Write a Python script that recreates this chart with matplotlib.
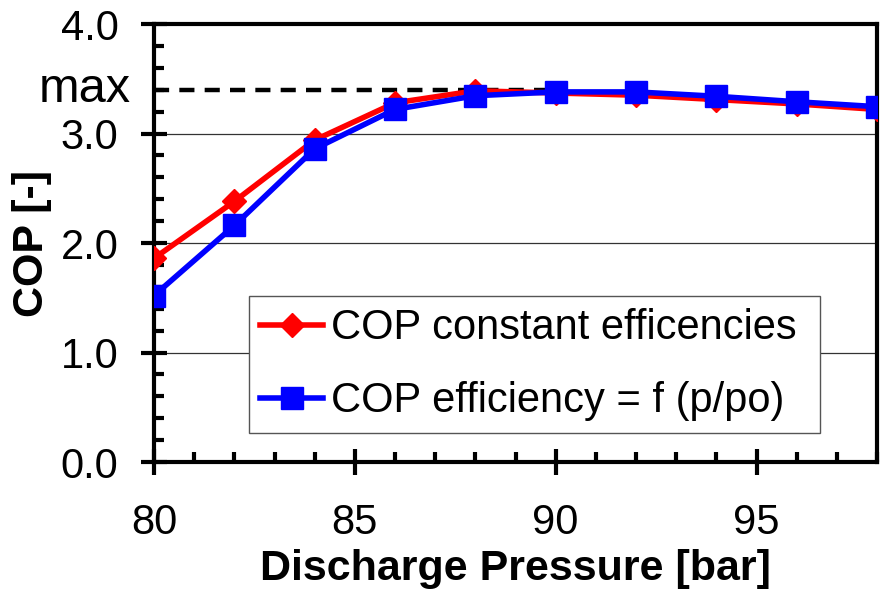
import matplotlib
matplotlib.use("Agg")
import matplotlib.pyplot as plt
from matplotlib.ticker import MultipleLocator, FixedLocator

# Discharge pressure [bar] and COP for the two compressor models
pressure = [80, 82, 84, 86, 88, 90, 92, 94, 96, 98]
cop_constant = [1.86, 2.38, 2.94, 3.28, 3.39, 3.37, 3.35, 3.31, 3.27, 3.22]
cop_ratio = [1.52, 2.16, 2.86, 3.22, 3.345, 3.38, 3.38, 3.34, 3.29, 3.245]

cop_max = 3.40
max_until = 90

y_ticks = [0.0, 1.0, 2.0, 3.0, 4.0]
x_ticks = [80, 85, 90, 95]

label_constant = "COP constant efficencies"
label_ratio = "COP efficiency = f (p/po)"

plt.rcParams["font.family"] = ["Liberation Sans", "DejaVu Sans"]

fig = plt.figure(figsize=(8.8, 5.93), dpi=100)
ax = fig.add_axes([0.175, 0.2209, 0.8216, 0.7386])

ax.set_xlim(80, 98)
ax.set_ylim(0, 4.0)

# horizontal grid lines
for yv in y_ticks[1:-1]:
    ax.axhline(yv, color="#333333", lw=0.9, zorder=1)

# dashed marker for the maximum COP
ax.plot([pressure[0], max_until], [cop_max, cop_max], color="black",
        lw=3.2, dashes=(3.4, 2.3), zorder=2)
ax.text(-0.032, cop_max, "max", transform=ax.get_yaxis_transform(),
        ha="right", va="center", fontsize=35)

ax.plot(pressure, cop_constant, color="#ff0000", lw=4, marker="D",
        ms=12.5, mec="#ff0000", label=label_constant, zorder=3)
ax.plot(pressure, cop_ratio, color="#0000ff", lw=4, marker="s",
        ms=16, mec="#0000ff", label=label_ratio, zorder=4)

ax.xaxis.set_major_locator(FixedLocator(x_ticks))
ax.xaxis.set_minor_locator(MultipleLocator(1))
ax.yaxis.set_major_locator(FixedLocator(y_ticks))
ax.yaxis.set_minor_locator(MultipleLocator(0.2))
ax.set_yticklabels([f"{v:.1f}" for v in y_ticks])
ax.set_xticklabels([str(v) for v in x_ticks])

ax.tick_params(which="major", direction="inout", length=19, width=3,
               labelsize=30)
ax.tick_params(which="minor", direction="in", length=7, width=3)
ax.tick_params(axis="x", which="major", pad=20)
ax.tick_params(axis="y", which="major", pad=16)

for side in ["left", "bottom", "top", "right"]:
    ax.spines[side].set_linewidth(3)
    ax.spines[side].set_color("black")

ax.set_xlabel("Discharge Pressure [bar]", fontsize=31, fontweight="bold",
              labelpad=4)
ax.set_ylabel("COP [-]", fontsize=31, fontweight="bold", labelpad=6)

leg = ax.legend(loc="lower left", bbox_to_anchor=(0.131, 0.066, 0.79, 0.3),
                mode="expand", fontsize=30, frameon=True, fancybox=False,
                edgecolor="#555555", framealpha=1, handlelength=1.5,
                handletextpad=0.2, borderpad=0.28, labelspacing=0.8,
                borderaxespad=0)
leg.get_frame().set_linewidth(1.0)
leg.set_zorder(5)

fig.savefig("out.png", dpi=100)
